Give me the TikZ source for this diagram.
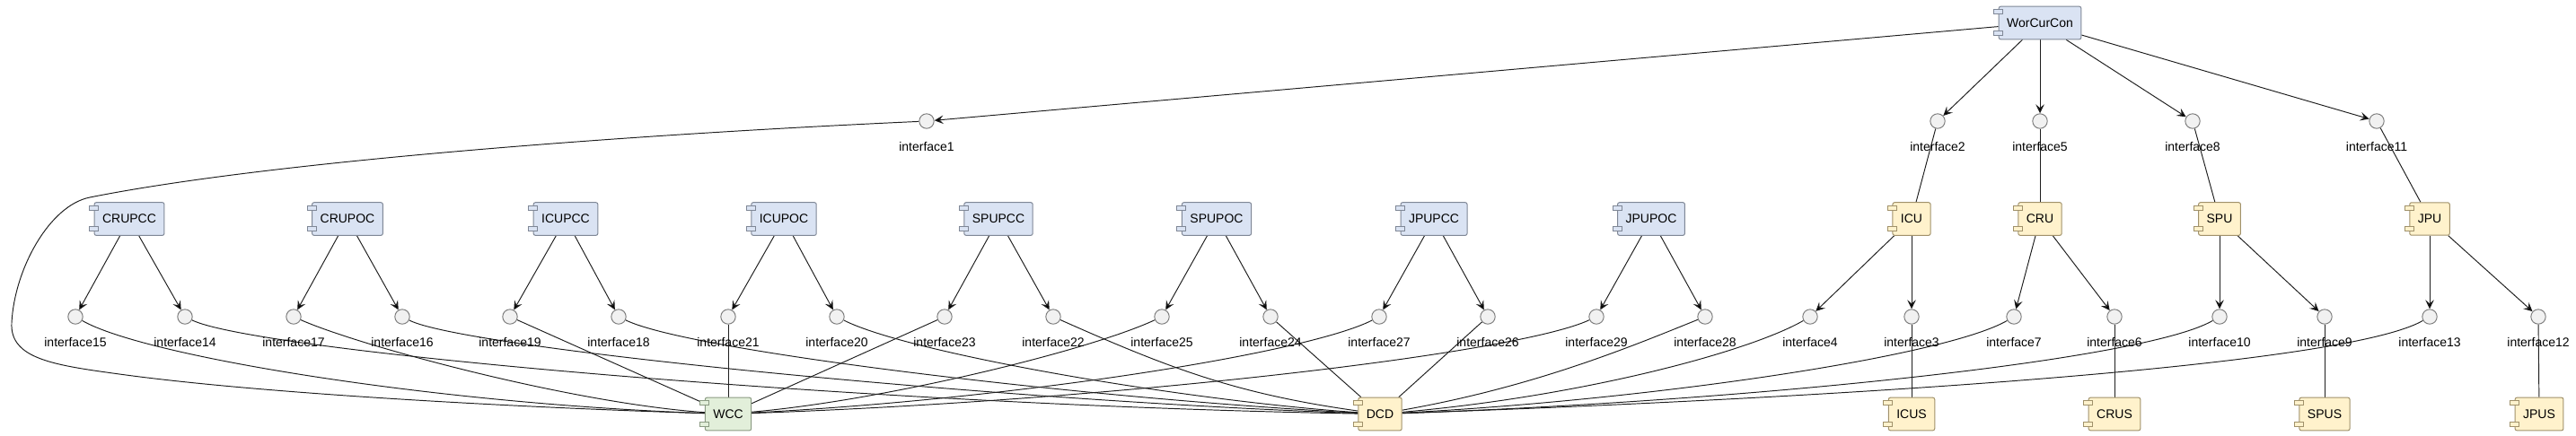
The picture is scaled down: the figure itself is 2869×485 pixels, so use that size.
\documentclass[tikz,border=0pt]{standalone}
\usepackage{fontspec}
\setmainfont{Liberation Sans}
\usetikzlibrary{calc, arrows.meta}

\definecolor{ctrlfill}{HTML}{DAE3F3}
\definecolor{ctrlline}{HTML}{7F8796}
\definecolor{unitfill}{HTML}{FFF2CC}
\definecolor{unitline}{HTML}{A0916A}
\definecolor{storefill}{HTML}{E2EFDA}
\definecolor{storeline}{HTML}{8A9A82}
\definecolor{ifacefill}{HTML}{F1F1F1}
\definecolor{ifaceline}{HTML}{7F7F7F}
\definecolor{linkcol}{HTML}{1E1E1E}

% one pixel of the layout is 0.25pt
\newcommand{\compfont}{\fontsize{3.5pt}{4.25pt}\selectfont}

\pgfdeclarelayer{edges}
\pgfsetlayers{edges,main}

\tikzset{
  ctrl/.style={rectangle, rounded corners=0.5pt, draw=ctrlline, fill=ctrlfill,
    minimum height=9.1pt, inner xsep=2.25pt, font=\compfont},
  unit/.style={ctrl, draw=unitline, fill=unitfill},
  store/.style={ctrl, draw=storeline, fill=storefill},
  icon ctrl/.style={draw=ctrlline, fill=ctrlfill},
  icon unit/.style={draw=unitline, fill=unitfill},
  icon store/.style={draw=storeline, fill=storefill},
  iface/.style={circle, draw=ifaceline, fill=ifacefill, minimum size=4.1pt,
    inner sep=0pt},
  lbl/.style={font=\compfont, inner sep=0pt, yshift=-3.5pt},
  link/.style={draw=linkcol, line width=0.24pt},
  uses/.style={link, -{Stealth[length=2.5pt, width=2.4pt, inset=1pt]}},
}

\begin{document}
\begin{tikzpicture}[x=0.25pt, y=0.25pt, line width=0.25pt]
  \useasboundingbox (0,0) rectangle (2869,-485);

  % top controller and its interfaces
  \node[ctrl] (WorCurCon) at (2272,-25.5) {WorCurCon};
  \node[iface, label={[lbl]below:interface1}] (i1) at (1032,-135) {};
  \node[iface, label={[lbl]below:interface2}] (i2) at (2158,-135) {};
  \node[iface, label={[lbl]below:interface5}] (i5) at (2272,-135) {};
  \node[iface, label={[lbl]below:interface8}] (i8) at (2442,-135) {};
  \node[iface, label={[lbl]below:interface11}] (i11) at (2647,-135) {};

  % second row
  \node[ctrl] (CRUPCC) at (144,-244) {CRUPCC};
  \node[ctrl] (CRUPOC) at (387,-244) {CRUPOC};
  \node[ctrl] (ICUPCC) at (630,-244) {ICUPCC};
  \node[ctrl] (ICUPOC) at (873,-244) {ICUPOC};
  \node[ctrl] (SPUPCC) at (1112,-244) {SPUPCC};
  \node[ctrl] (SPUPOC) at (1355,-244) {SPUPOC};
  \node[ctrl] (JPUPCC) at (1597,-244) {JPUPCC};
  \node[ctrl] (JPUPOC) at (1839,-244) {JPUPOC};
  \node[unit] (ICU) at (2129,-244) {ICU};
  \node[unit] (CRU) at (2272,-244) {CRU};
  \node[unit] (SPU) at (2472,-244) {SPU};
  \node[unit] (JPU) at (2706,-244) {JPU};

  % third row
  \node[iface, label={[lbl]below:interface15}] (i15) at (84,-353) {};
  \node[iface, label={[lbl]below:interface14}] (i14) at (206,-353) {};
  \node[iface, label={[lbl]below:interface17}] (i17) at (327,-353) {};
  \node[iface, label={[lbl]below:interface16}] (i16) at (448,-353) {};
  \node[iface, label={[lbl]below:interface19}] (i19) at (568,-353) {};
  \node[iface, label={[lbl]below:interface18}] (i18) at (689,-353) {};
  \node[iface, label={[lbl]below:interface21}] (i21) at (811,-353) {};
  \node[iface, label={[lbl]below:interface20}] (i20) at (932,-353) {};
  \node[iface, label={[lbl]below:interface23}] (i23) at (1052,-353) {};
  \node[iface, label={[lbl]below:interface22}] (i22) at (1173,-353) {};
  \node[iface, label={[lbl]below:interface25}] (i25) at (1294,-353) {};
  \node[iface, label={[lbl]below:interface24}] (i24) at (1415,-353) {};
  \node[iface, label={[lbl]below:interface27}] (i27) at (1536,-353) {};
  \node[iface, label={[lbl]below:interface26}] (i26) at (1657,-353) {};
  \node[iface, label={[lbl]below:interface29}] (i29) at (1778,-353) {};
  \node[iface, label={[lbl]below:interface28}] (i28) at (1899,-353) {};
  \node[iface, label={[lbl]below:interface4}] (i4) at (2016,-353) {};
  \node[iface, label={[lbl]below:interface3}] (i3) at (2129,-353) {};
  \node[iface, label={[lbl]below:interface7}] (i7) at (2243,-353) {};
  \node[iface, label={[lbl]below:interface6}] (i6) at (2355,-353) {};
  \node[iface, label={[lbl]below:interface10}] (i10) at (2472,-353) {};
  \node[iface, label={[lbl]below:interface9}] (i9) at (2589,-353) {};
  \node[iface, label={[lbl]below:interface13}] (i13) at (2706,-353) {};
  \node[iface, label={[lbl]below:interface12}] (i12) at (2827,-353) {};

  % bottom row
  \node[store] (WCC) at (811,-461.5) {WCC};
  \node[unit] (DCD) at (1537,-461.5) {DCD};
  \node[unit] (ICUS) at (2129,-461.5) {ICUS};
  \node[unit] (CRUS) at (2355,-461.5) {CRUS};
  \node[unit] (SPUS) at (2589,-461.5) {SPUS};
  \node[unit] (JPUS) at (2828,-461.5) {JPUS};

  % component icons
  \foreach \c/\k in {WorCurCon/ctrl, CRUPCC/ctrl, CRUPOC/ctrl, ICUPCC/ctrl,
      ICUPOC/ctrl, SPUPCC/ctrl, SPUPOC/ctrl, JPUPCC/ctrl, JPUPOC/ctrl,
      ICU/unit, CRU/unit, SPU/unit, JPU/unit, WCC/store, DCD/unit,
      ICUS/unit, CRUS/unit, SPUS/unit, JPUS/unit} {
    \draw[icon \k] ($(\c.north west)+(-5,-4)$) rectangle ++(10,-5);
    \draw[icon \k] ($(\c.south west)+(-5,5)$) rectangle ++(10,5);
  }

  \begin{pgfonlayer}{edges}
    \path[uses] (WorCurCon) edge (i1) edge (i2) edge (i5) edge (i8) edge (i11);
    \path[link] (i2) edge (ICU) (i5) edge (CRU) (i8) edge (SPU) (i11) edge (JPU);
    \path[uses] (CRUPCC) edge (i15) edge (i14);
    \path[uses] (CRUPOC) edge (i17) edge (i16);
    \path[uses] (ICUPCC) edge (i19) edge (i18);
    \path[uses] (ICUPOC) edge (i21) edge (i20);
    \path[uses] (SPUPCC) edge (i23) edge (i22);
    \path[uses] (SPUPOC) edge (i25) edge (i24);
    \path[uses] (JPUPCC) edge (i27) edge (i26);
    \path[uses] (JPUPOC) edge (i29) edge (i28);
    \path[uses] (ICU) edge (i4) edge (i3);
    \path[uses] (CRU) edge (i7) edge (i6);
    \path[uses] (SPU) edge (i10) edge (i9);
    \path[uses] (JPU) edge (i13) edge (i12);
    \path[link] (i3) edge (ICUS) (i6) edge (CRUS) (i9) edge (SPUS) (i12) edge (JPUS);

    % into WCC
    \draw[link] (i1) .. controls (700,-150) and (300,-180) .. (100,-220)
      .. controls (55,-229) and (16,-300) .. (13,-360)
      .. controls (11,-400) and (60,-407) .. (133,-417)
      .. controls (300,-440) and (600,-455) .. (WCC);
    \path[link] (i15) edge[out=-30, in=178, out distance=20pt, in distance=75pt] (WCC)
      (i17) edge[out=-24, in=176, out distance=17.5pt, in distance=37.5pt] (WCC)
      (i19) edge (WCC) (i21) edge (WCC) (i23) edge (WCC)
      (i25) edge[out=-155, in=5, out distance=20pt, in distance=37.5pt] (WCC)
      (i27) edge[out=-153, in=3, out distance=20pt, in distance=75pt] (WCC)
      (i29) edge[out=-155, in=2, out distance=22.5pt, in distance=100pt] (WCC);

    % into DCD
    \path[link] (i14) edge[out=-26, in=179, out distance=20pt, in distance=137.5pt] (DCD)
      (i16) edge[out=-27, in=178, out distance=17.5pt, in distance=100pt] (DCD)
      (i18) edge[out=-26, in=177, out distance=20pt, in distance=75pt] (DCD)
      (i20) edge[out=-27, in=176, out distance=20pt, in distance=50pt] (DCD)
      (i22) edge[out=-24, in=172] (DCD)
      (i24) edge (DCD) (i26) edge (DCD)
      (i28) edge[out=-158, in=10, out distance=20pt, in distance=37.5pt] (DCD)
      (i4) edge[out=-150, in=5, out distance=17.5pt, in distance=50pt] (DCD)
      (i7) edge[out=-150, in=3, out distance=20pt, in distance=70pt] (DCD)
      (i10) edge[out=-150, in=2, out distance=22.5pt, in distance=95pt] (DCD)
      (i13) edge[out=-150, in=2, out distance=25pt, in distance=125pt] (DCD);
  \end{pgfonlayer}
\end{tikzpicture}
\end{document}
